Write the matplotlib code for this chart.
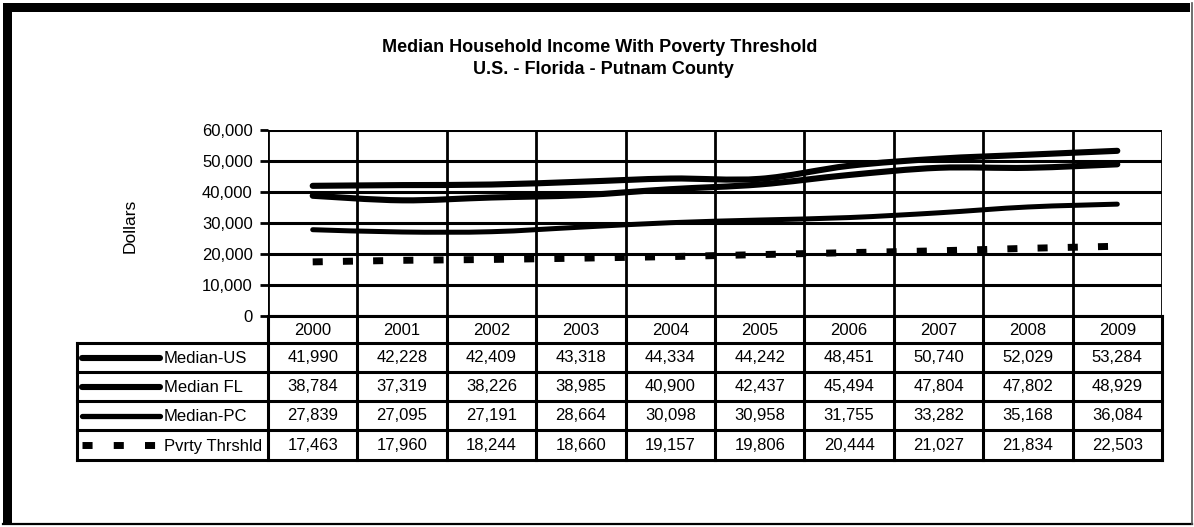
import matplotlib
matplotlib.use("Agg")
import matplotlib.pyplot as plt
from matplotlib.lines import Line2D
from matplotlib.patches import Rectangle, PathPatch
from matplotlib.path import Path

plt.rcParams['font.family'] = ['Liberation Sans', 'DejaVu Sans']

years = ['2000', '2001', '2002', '2003', '2004', '2005', '2006', '2007', '2008', '2009']
median_us = [41990, 42228, 42409, 43318, 44334, 44242, 48451, 50740, 52029, 53284]
median_fl = [38784, 37319, 38226, 38985, 40900, 42437, 45494, 47804, 47802, 48929]
median_pc = [27839, 27095, 27191, 28664, 30098, 30958, 31755, 33282, 35168, 36084]
poverty = [17463, 17960, 18244, 18660, 19157, 19806, 20444, 21027, 21834, 22503]
series_names = ['Median-US', 'Median FL', 'Median-PC', 'Pvrty Thrshld']
y_ticks = [0, 10000, 20000, 30000, 40000, 50000, 60000]

W, H = 1194, 527
fig = plt.figure(figsize=(W / 100, H / 100), dpi=100)


def fx(px):
    return px / W


def fy(py):
    return 1 - py / H


def smooth_path(xs, ys):
    """Bezier path through the data points (Excel-style smoothed line)."""
    pts = list(zip(xs, ys))
    verts = [pts[0]]
    codes = [Path.MOVETO]
    for i in range(len(pts) - 1):
        p0 = pts[i - 1] if i > 0 else pts[i]
        p1 = pts[i]
        p2 = pts[i + 1]
        p3 = pts[i + 2] if i + 2 < len(pts) else pts[i + 1]
        c1 = (p1[0] + (p2[0] - p0[0]) / 6, p1[1] + (p2[1] - p0[1]) / 6)
        c2 = (p2[0] - (p3[0] - p1[0]) / 6, p2[1] - (p3[1] - p1[1]) / 6)
        verts += [c1, c2, p2]
        codes += [Path.CURVE4] * 3
    return Path(verts, codes)


# plot area in pixels
L, R, T, B = 268, 1162, 130, 316
ax = fig.add_axes([fx(L), fy(B), fx(R - L), (B - T) / H])
n = len(years)
xs = [i + 0.5 for i in range(n)]
ax.set_xlim(0, n)
ax.set_ylim(0, 60000)

for yv in y_ticks:
    ax.axhline(yv, color='black', lw=2.2, zorder=1)
for i in range(n + 1):
    ax.axvline(i, color='black', lw=2.0, zorder=1)

dash_lw = 5.0
dash_style = (0, (1.45, 2.9))
for vals, lw in [(median_us, 4.4), (median_fl, 4.4), (median_pc, 3.6)]:
    patch = PathPatch(smooth_path(xs, vals), fill=False, edgecolor='black', lw=lw,
                      capstyle='round', joinstyle='round', zorder=3)
    ax.add_patch(patch)
ax.plot(xs, poverty, color='black', lw=dash_lw, linestyle=dash_style,
        dash_capstyle='butt', zorder=3)

ax.set_yticks(y_ticks)
ax.set_yticklabels([f'{v:,}' for v in y_ticks], fontsize=12)
ax.tick_params(axis='y', length=6, width=2, direction='out', pad=5)
ax.set_xticks([])
for s in ax.spines.values():
    s.set_visible(False)
ax.patch.set_alpha(0)

fig.text(fx(130), fy(226), 'Dollars', rotation=90, ha='center', va='center', fontsize=12.5)

fig.text(fx(600), fy(47), 'Median Household Income With Poverty Threshold',
         ha='center', va='center', fontsize=13, fontweight='bold')
fig.text(fx(603), fy(70), 'U.S. - Florida - Putnam County',
         ha='center', va='center', fontsize=13, fontweight='bold')

# data table
TL = 77
row_edges = [316, 343, 372, 401, 430, 460]
colw = (R - L) / n
lw_t = 2.2


def hline(x0, x1, y, lw=lw_t):
    fig.add_artist(Line2D([fx(x0), fx(x1)], [fy(y), fy(y)], color='black', lw=lw))


def vline(x, y0, y1, lw=lw_t):
    fig.add_artist(Line2D([fx(x), fx(x)], [fy(y0), fy(y1)], color='black', lw=lw))


hline(L, R, row_edges[0])
for y in row_edges[1:]:
    hline(TL, R, y)
vline(TL, row_edges[1], row_edges[-1])
for i in range(n + 1):
    vline(L + i * colw, row_edges[0], row_edges[-1])

tfs = 12
for i, yr in enumerate(years):
    fig.text(fx(L + (i + 0.5) * colw), fy((row_edges[0] + row_edges[1]) / 2 + 1), yr,
             ha='center', va='center', fontsize=tfs)

all_series = [median_us, median_fl, median_pc, poverty]
for r, (name, vals) in enumerate(zip(series_names, all_series)):
    yc = (row_edges[r + 1] + row_edges[r + 2]) / 2
    for i, v in enumerate(vals):
        fig.text(fx(L + (i + 0.5) * colw), fy(yc), f'{v:,}',
                 ha='center', va='center', fontsize=tfs)
    if r < 3:
        fig.add_artist(Line2D([fx(82), fx(160)], [fy(yc), fy(yc)], color='black',
                              lw=4.4 if r < 2 else 3.8, solid_capstyle='round'))
    else:
        fig.add_artist(Line2D([fx(82), fx(157)], [fy(yc), fy(yc)], color='black',
                              lw=dash_lw, linestyle=(0, (1.45, 3.05)), dash_capstyle='butt'))
    fig.text(fx(164), fy(yc + 1), name, ha='left', va='center', fontsize=tfs)

# outer frame
fig.add_artist(Rectangle((fx(3), fy(12)), fx(1190 - 3), 9 / H, color='black', lw=0))
fig.add_artist(Rectangle((fx(3), fy(524)), 9 / W, (524 - 3) / H, color='black', lw=0))
fig.add_artist(Line2D([fx(3), fx(1192)], [fy(524), fy(524)], color='black', lw=1.6))
fig.add_artist(Line2D([fx(1192), fx(1192)], [fy(3), fy(524)], color='#555555', lw=1.2))

fig.savefig('out.png', dpi=100)
